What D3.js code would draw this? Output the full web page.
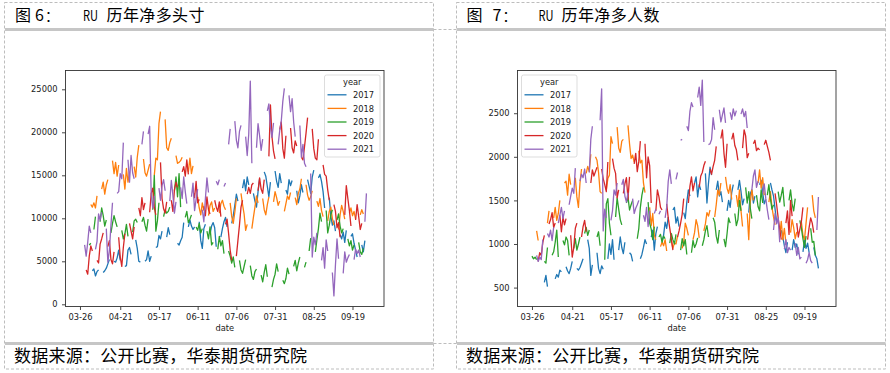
<!DOCTYPE html>
<html>
<head>
<meta charset="utf-8">
<script src="https://cdn.jsdelivr.net/npm/d3@7"></script>
<style>
  body { margin: 0; background: #fff; }
</style>
</head>
<body>
<script>
// years, ticks and the two charts' values (one value per trading day, null = no data)
var years = ["2017", "2018", "2019", "2020", "2021"];
var colors = ["#1f77b4", "#ff7f0e", "#2ca02c", "#d62728", "#9467bd"];
var tickLabels = ["03-26", "04-21", "05-17", "06-11", "07-06", "07-31", "08-25", "09-19"];
var holidays = ["05-01"];
var posTicks = [0, 5000, 10000, 15000, 20000, 25000];
var numTicks = [500, 1000, 1500, 2000, 2500];

// net long position
var pos2017 = [null,null,null,null,null,
  3900,4100,3300,3800,4000, 3700,3900,4200,4700,5200, 5000,4900,5400,6300,5100,
  4400,4500,6300,6600,5800, 7500,6500,5000,4900,5000, 5200,6200,5000,5600,6600,
  6700,8000,7600,8500,7800, 8900,8100,null,null,7100, 6900,7400,7800,9500,9000,
  9800,9100,8700,9000,9600, 7400,6500,8800,9300,8200, 9100,9500,8900,6700,7800,
  8800,9600,10100,9000,9400, 10300,11500,12800,12000,13500, 14500,13200,14800,13900,12900,
  12000,11300,13100,14600,15400, 14900,13700,12500,14200,15500, 14300,13600,15200,14100,13300,
  12800,14500,13800,14400,13200, 11800,12600,13900,13000,14500, 13700,12900,14800,15600,14700,
  15100,14300,13100,11200,12400, 10300,9200,9700,8500,8100, 7600,8400,7200,8600,7900,
  8200,7100,6300,5500,6900,6100,7400];
var pos2018 = [null,null,null,null,
  12100,11600,11300,11800,11200, 12600,13400,14200,12800,13900, 14500,16700,15200,16500,14900,
  16200,15100,13400,15800,14200, 15400,16000,14800,17100,18500, 16900,15300,14900,15600,16300,
  15000,17000,16800,21000,22400, 21500,18200,17900,18800,19300, 17300,16400,16500,16700,17100,
  16200,15400,17000,15200,16100, 12500,11200,10400,11800,10900, 10300,11500,11900,10800,11200,
  10600,11700,12100,11400,11000, 11800,10200,9400,10700,12300, 12900,11600,10500,8600,9300,
  8800,10100,11300,12600,11800, 12300,11000,10400,11600,12500, 11900,13100,12400,11500,12000,
  10800,11700,12600,12200,13000, 12400,11600,12900,13400,14600, 13900,12700,12100,12500,13200,
  12000,11400,12300,10900,10200, 9700,10800,11300,10000,9200, 8700,10400,11500,10800,9900,
  10600,11200,10300,10800,9900,10400,11000,10500];
var pos2019 = [null,null,null,
  6600,6900,7100,null,8700, 10200,9600,11200,10300,9100, 9800,8300,9400,10300,9600,
  9000,8600,7600,8200,9300, 7900,8400,9700,9900,9500, 9600,10100,9200,8500,9900,
  11000,15000,8500,9700,11800, 10200,11000,10600,10800,11300, 13200,14800,12500,15200,11300,
  10100,10800,9500,9900,10400, 9000,8600,9400,8300,8800, 8500,7600,9000,6900,7200,
  6400,7900,6800,7400,5900, 6200,5600,4800,5500,4300, 5100,4000,3600,4400,5200,
  4500,3300,2900,3800,4100, 3400,2600,3700,4600,3200, 2000,2900,3500,4700,3800,
  2800,2400,3000,4200,3500, 4400,5100,3900,4800,5500, 4300,4900,null,6200,7700,
  6100,7500,8800,10600,9600, 10900,8300,9200,10400,11000, 9800,10500,9100,8300,8800,
  7600,6800,7400,6300,6900,7200,6100,5800,6500];
var pos2020 = [null,2500,4000,3500,5600,
  6800,6200,5100,4800,7000, 7600,8300,6700,7400,5200, 4700,6100,7800,5500,4400,
  6600,8200,9400,8500,7600, 9000,11200,10300,12400,11000, 11800,10700,12900,13500,11200,
  10400,16500,12300,11100,10600, 11900,12100,10800,13300,14200, 13600,15400,16000,14900,16800,
  15100,13200,12400,14300,11800, 12200,11400,10300,12500,11000, 10500,12100,11300,10800,11900,
  10200,9300,9900,8200,6300, 5100,5600,7400,9200,11300, 12100,12800,13600,12900,13900,
  14100,13200,14700,13400,12900, 14500,17200,23200,19500,17800, 16900,20300,21200,18100,17000,
  19600,20500,18200,17600,19000, 18400,17100,16800,18300,19900, 21700,20400,18100,17000,16800,
  19200,16200,15100,14900,13300, 12100,11600,10800,8900,9500, 7800,10400,13800,12300,10900,
  9100,9800,11600,10200,8700,9400];
var pos2021 = [8000,6900,5600,7200,9100,
  8300,6400,7300,10500,9800, 10700,8800,4900,6300,9200, 11800,12900,13100,15200,14600,
  18800,16800,14200,17300,15300, 14600,16300,null,null,18600, 20100,19800,20700,12800,11200,
  12600,13500,12100,13800,14500, 13200,12000,14400,12700,10600, 11900,13600,12300,14800,13100,
  11700,12500,14100,10900,12200, 13400,11000,9600,12300,14700, 13000,12100,null,14300,13900,
  14500,13700,14100,null,18600, 20400,21300,19100,18200,20100, 20800,19500,17300,19800,25960,
  16400,18200,21000,19600,17900, 19200,22500,23300,20600,19400, 21100,18600,20200,21300,23600,
  25100,24300,22400,23900,21200, 19500,20800,17100,18600,16400, 16000,15200,5500,7800,6900,
  8300,5100,6600,4200,7500, 6200,3700,970,4600,7600, 5300,3600,6100,4900,5400,
  5800,5200,6400,5900,6300,5500,9600,12900];

// net long traders
var num2017 = [null,null,null,null,null,
  560,640,510,null,540, 600,650,620,700,680, 740,690,660,720,800,
  720,700,730,780,830, 1050,950,640,760,900, 720,660,750,710,830,
  1000,880,1050,820,930, 1080,960,890,1020,900, 880,800,null,null,830,
  880,960,1050,1000,1080, 1160,930,1120,1200,1030, 1100,1250,1180,1310,1390,
  1420,1240,1310,1200,1360, 1290,1480,1620,1550,1700, 1770,1540,1680,1620,1810,
  1470,1700,1880,1790,1620, 1720,1550,1600,1480,1380, 1500,1420,1590,1680,1620,
  1730,1600,1450,1520,1360, 1580,1620,1470,1550,1680, 1730,1590,1460,1510,1700,
  1620,1550,1400,1250,1160, 1080,980,900,1020,930, 1050,960,1000,880,910,
  1040,950,1010,900,960,870,830,720];
var num2018 = [null,null,null,
  1150,1040,1100,null,null, 1240,1380,1300,1420,1270, 1350,1500,1700,1720,1560,
  1800,1680,1760,1540,1420, 1700,1860,1810,1890,1830, 2030,2000,1960,1820,1600,
  1580,1620,1750,1790,2230, 2150,2340,2100,2050,2180, 2200,2360,2150,1980,2020,
  1940,2070,1930,1960,1700, 1590,1420,1210,1350,1100, 1050,970,1020,980,1050,
  920,1040,950,1010,1000, 1090,950,1020,1240,1180, 1100,1050,1130,1280,1210,
  1070,1150,1230,1360,1320, 1390,1310,1450,1620,1560, 1700,1770,1640,1580,1680,
  1510,1560,1430,1620,1380, 1200,1350,1050,1480,1620, 1500,1700,1850,1640,1760,
  1560,1480,1600,1420,1310, 1220,1100,1260,1050,1180,
  1010,1130,1280,1190,1060,1140,1250,1100,1050,1240,1420,1560,1380,1300];
var num2019 = [860,830,850,820,null,
  null,800,780,960,870, 910,1020,1160,850,1040, 990,1080,1040,870,950,
  1060,930,1000,1080,1120, 1190,1100,1160,1200,null, 1080,1140,980,820,1460,
  1520,1240,1100,1310,1530, 1400,1280,1220,1470,1540, 1390,1450,1500,1060,1180,
  1420,1560,1650,1480,1240, 1170,1050,1200,1080,1110, 1020,1090,1060,1010,1120,
  1050,1000,1110,930,1060, 980,1050,880,900,1040, 960,1000,1070,980,1050,
  1150,1210,1080,1300,1250, 1090,1010,1160,1060,970, 1120,1300,1240,1350,1210,
  1280,1500,1380,1650,1470, 1600,1410,1290,1560,1430, 1380,1620,1470,1560,1680,
  1520,1400,1450,1600,1480, 1560,1650,1430,1500,1620, 1460,1380,1520,1270,1180,
  1060,960,1090,1180,1020,1030,870];
var num2020 = [null,760,800,900,870,
  1020,1100,1230,1280,1360, 1190,1240,1330,1140,1310, 1220,1290,1100,850,960,
  1180,1240,1080,1200,1270, 1140,1700,1850,1780,1830, 1880,1860,1750,1680,1600,
  1940,1980,1870,1810,1530, 1620,1580,1690,1760,1510, 1770,1920,2040,1830,1950,
  2180,2150,1760,2000,1900, 1470,1380,1620,1540,1420, 1390,1460,1300,1180,1060,
  930,1080,1150,1240,1340, 1520,1470,1660,1770,1610, 1700,1650,1780,1820,1900,
  1950,1860,1800,1890,1960, 2120,2210,2310,2040,1880, 2150,2200,2270,2130,2080,
  1960,2100,2310,2240,1990, 2040,2150,2190,2070,2100, 2080,2140,2190,2120,2050,
  1960,1580,1450,1300,1170, 1050,1240,1380,1110,1500, 1320,1240,1080,1170,1260,
  1420,1050,1190,1300,1240,1130];
var num2021 = [960,870,800,850,820,
  1050,1120,1080,1160,1040, 1190,1240,1330,1420,1290, 1380,1450,1550,1640,1580,
  1870,1720,1800,1760,1860, 1700,1820,2200,2350,null, 2470,2420,2780,1150,1400,
  1300,1270,1380,1620,1560, 1700,1680,1740,1550,1480, 1590,1520,1350,1410,1450,
  1500,1330,1260,1420,1200, 1380,1350,1400,null,1340, 1380,1300,1420,1720,1850,
  1690,1740,1820,null,2190, 2200,2350,2300,2520,2620, 2570,2680,2800,2590,2880,
  2170,2140,2150,2200,2450, 2310,2540,2400,2480,2560, 2390,2510,2430,2550,2470,
  2530,2490,2550,2460,2520, 2330,1620,1780,1850,1650, 1720,1580,1690,1520,1390,
  1280,1160,1350,1230,1300, 1020,940,1050,900,960, 930,1010,870,960,830,
  850,780,820,900,810,780,1160,1540];

var font = "'DejaVu Sans', sans-serif";
var cjk = "'Noto Sans CJK SC', sans-serif";

var svg = d3.select("body").append("svg")
  .attr("width", 890)
  .attr("height", 373);

// trading days of one season (weekdays, 03-26 .. 09-30)
var fmt = d3.timeFormat("%m-%d");
function tradingDays(year) {
  var start = new Date(+year, 2, 26);
  var end = new Date(+year, 9, 1);
  return d3.timeDay.range(start, end)
    .filter(d => d.getDay() > 0 && d.getDay() < 6 && holidays.indexOf(fmt(d)) < 0)
    .map(fmt);
}
var dayLists = years.map(tradingDays);

// x axis is every mm-dd seen in any year (like a pivot table index)
var catSet = new Set();
dayLists.forEach(l => l.forEach(d => catSet.add(d)));
var categories = Array.from(catSet).sort();
var catIndex = new Map(categories.map((c, i) => [c, i]));

function seriesFor(vals, j) {
  var lookup = new Map(dayLists[j].map((d, k) => [d, vals[k]]));
  return categories.map(function(c, i) {
    var v = lookup.get(c);
    return { i: i, v: (v === undefined || v === null) ? null : v };
  });
}

// page frames, grey rules, titles and footers
function drawFrame(x0, fig, title) {
  svg.append("rect")
    .attr("x", x0).attr("y", 2.5)
    .attr("width", 429).attr("height", 366.5)
    .attr("fill", "none").attr("stroke", "#bdbdbd")
    .attr("stroke-dasharray", "3,2");
  svg.append("rect").attr("x", x0 + 0.5).attr("y", 28).attr("width", 428.5).attr("height", 3).attr("fill", "#c6c6c6");
  svg.append("rect").attr("x", x0 + 0.5).attr("y", 342).attr("width", 428.5).attr("height", 3).attr("fill", "#c6c6c6");

  var t = svg.append("g").attr("font-family", cjk).attr("font-size", "16px").attr("fill", "#000");
  t.append("text").attr("x", fig.x0).attr("y", 21).text("图");
  t.append("text").attr("x", fig.x1).attr("y", 21).text(fig.n);
  t.append("text").attr("x", fig.x1 + 10).attr("y", 21).attr("font-size", "14px").text("：");
  t.append("text").attr("x", fig.x2).attr("y", 21).attr("textLength", 15).attr("lengthAdjust", "spacingAndGlyphs").attr("font-size", "14px").text("RU");
  t.append("text").attr("x", fig.x3).attr("y", 21).attr("textLength", 98).text(title);

  svg.append("text")
    .attr("x", x0 + 9.5).attr("y", 362)
    .attr("font-family", cjk).attr("font-size", "17px")
    .attr("textLength", 293)
    .text("数据来源：公开比赛，华泰期货研究院");
}
drawFrame(4.5, {x0: 15, x1: 35, x2: 83, x3: 106.5, n: "6"}, "历年净多头寸");
drawFrame(456.5, {x0: 466.5, x1: 492.5, x2: 538.5, x3: 561.5, n: "7"}, "历年净多人数");
[29.5, 343.5].forEach(function(yy) {
  svg.append("line").attr("x1", 433.5).attr("x2", 456.5).attr("y1", yy).attr("y2", yy)
    .attr("stroke", "#bdbdbd").attr("stroke-dasharray", "3,2");
});

function drawChart(c) {
  var g = svg.append("g");
  var n = categories.length - 1;
  var x = d3.scaleLinear().domain([-0.05 * n, 1.05 * n]).range([c.left, c.right]);
  var y = d3.scaleLinear().domain(c.yDomain).range([c.bottom, c.top]);

  var line = d3.line()
    .defined(d => d.v !== null)
    .x(d => x(d.i))
    .y(d => y(d.v));

  c.series.forEach(function(vals, j) {
    g.append("path")
      .datum(seriesFor(vals, j))
      .attr("d", line)
      .attr("fill", "none")
      .attr("stroke", colors[j])
      .attr("stroke-width", 1.3)
      .attr("stroke-linejoin", "round");
  });

  // axes
  var xAxis = d3.axisBottom(x)
    .tickValues(tickLabels.map(t => catIndex.get(t)))
    .tickFormat((d, i) => tickLabels[i])
    .tickSize(3.5).tickPadding(4);
  var yAxis = d3.axisLeft(y)
    .tickValues(c.yTicks)
    .tickFormat(d3.format("d"))
    .tickSize(3.5).tickPadding(4.5);

  [g.append("g").attr("transform", `translate(0, ${c.bottom})`).call(xAxis),
   g.append("g").attr("transform", `translate(${c.left}, 0)`).call(yAxis)].forEach(function(ax) {
    ax.select(".domain").remove();
    ax.selectAll("line").attr("stroke", "#333").attr("stroke-width", 0.9);
    ax.selectAll("text").attr("font-family", font).attr("font-size", "8.3px").attr("fill", "#222");
  });

  g.append("rect")
    .attr("x", c.left).attr("y", c.top)
    .attr("width", c.right - c.left).attr("height", c.bottom - c.top)
    .attr("fill", "none").attr("stroke", "#333").attr("stroke-width", 0.9);

  g.append("text")
    .attr("x", (c.left + c.right) / 2).attr("y", 331)
    .attr("text-anchor", "middle")
    .attr("font-family", font).attr("font-size", "8.3px").attr("fill", "#222")
    .text("date");

  // legend
  var lg = g.append("g").attr("font-family", font).attr("font-size", "8.3px").attr("fill", "#222");
  lg.append("rect")
    .attr("x", c.legendX).attr("y", 75)
    .attr("width", 55.5).attr("height", 82).attr("rx", 2)
    .attr("fill", "#fff").attr("fill-opacity", 0.8)
    .attr("stroke", "#d4d4d4").attr("stroke-width", 0.8);
  lg.append("text")
    .attr("x", c.legendX + 27.75).attr("y", 85)
    .attr("text-anchor", "middle")
    .text("year");
  years.forEach(function(yr, j) {
    var ly = 94.8 + 13.6 * j;
    lg.append("line")
      .attr("x1", c.legendX + 3).attr("x2", c.legendX + 22)
      .attr("y1", ly).attr("y2", ly)
      .attr("stroke", colors[j]).attr("stroke-width", 1.3);
    lg.append("text").attr("x", c.legendX + 28.5).attr("y", ly + 3.2).text(yr);
  });
}

drawChart({
  left: 65.5, right: 384, top: 70.5, bottom: 306.5,
  yDomain: [-256, 27186], yTicks: posTicks,
  series: [pos2017, pos2018, pos2019, pos2020, pos2021],
  legendX: 324.5
});
drawChart({
  left: 517.5, right: 836, top: 70.5, bottom: 306.5,
  yDomain: [283, 2990], yTicks: numTicks,
  series: [num2017, num2018, num2019, num2020, num2021],
  legendX: 521.5
});
</script>
</body>
</html>
